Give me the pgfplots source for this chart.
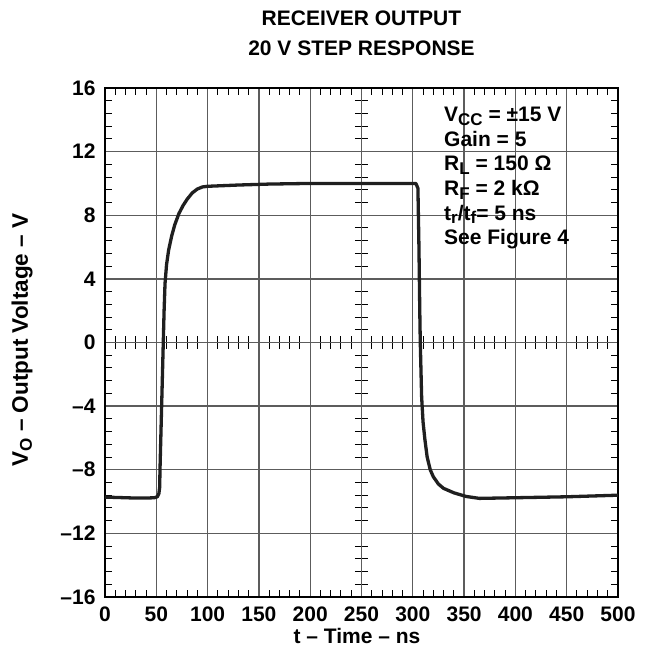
\documentclass[border=0pt]{standalone}
\usepackage{fontspec}
\setmainfont{Liberation Sans}
\usepackage{pgfplots}
\pgfplotsset{compat=1.18}

\definecolor{gridc}{gray}{0.36}
\definecolor{curvec}{gray}{0.12}
% lowered subscript like the datasheet
\newcommand\sub[1]{\raisebox{-0.35ex}{\fontsize{17}{17}\selectfont #1}}

\begin{document}
\begin{tikzpicture}[font=\fontsize{21}{25}\selectfont\bfseries]
\useasboundingbox (-105pt,-65pt) rectangle (542pt,597pt);

% centre lines with crossing minor ticks
\begin{axis}[at={(0,0)}, anchor=south west, scale only axis,
  width=513pt, height=509pt,
  xmin=-250, xmax=250, ymin=-16, ymax=16,
  axis lines=middle, axis line style={-, gridc, line width=1.3pt},
  xtick={-250,-200,...,250}, ytick={-16,-12,...,16},
  minor x tick num=4, minor y tick num=4,
  xticklabels={}, yticklabels={},
  tick align=center, major tick length=0pt, minor tick length=13pt,
  minor tick style={line width=1pt, black}]
\end{axis}

\begin{axis}[at={(0,0)}, anchor=south west, scale only axis,
  width=513pt, height=509pt,
  xmin=0, xmax=500, ymin=-16, ymax=16,
  xtick={0,50,...,500}, ytick={-16,-12,...,16},
  xticklabels={0,50,100,150,200,250,300,350,400,450,500},
  yticklabels={–16,–12,–8,–4,0,4,8,12,16},
  minor x tick num=4, minor y tick num=4,
  tick align=inside, major tick length=0pt, minor tick length=7pt,
  minor tick style={line width=1pt, black},
  grid=major, major grid style={gridc, line width=1.3pt},
  axis line style={line width=2.4pt, black},
  ticklabel style={font=\fontsize{21}{21}\selectfont\bfseries},
  xticklabel style={yshift=-6pt}, yticklabel style={xshift=-6pt}]
\addplot[curvec, line width=3.3pt, line join=round] coordinates {
  (0,-9.72) (10,-9.74) (20,-9.76) (30,-9.78) (40,-9.78) (48,-9.76)
  (51,-9.7) (52.5,-9.5) (53.3,-9.1) (53.6,-8) (54.4,-6) (55.2,-4)
  (56,-2) (56.8,0) (57.6,2) (58.5,3.7) (60,4.9) (62,5.8) (65,6.7)
  (68,7.4) (72,8.1) (76,8.6) (80,9.0) (85,9.4) (90,9.65) (95,9.78)
  (100,9.82) (130,9.9) (160,9.96) (200,10.0) (250,10.0) (303,10.0)
  (305,9.7) (306,6) (306.8,2) (307.3,0) (308.6,-3.4) (310,-5)
  (311.8,-6.1) (314,-7.2) (317,-8) (320,-8.44) (325,-8.9) (330,-9.17)
  (340,-9.45) (352,-9.68) (365,-9.8) (400,-9.76) (450,-9.7) (500,-9.6)
};
\end{axis}

\node[align=center, font=\fontsize{21}{30}\selectfont\bfseries] at (256.5pt,564pt)
  {RECEIVER OUTPUT\\20 V STEP RESPONSE};
\node[rotate=90, font=\fontsize{22.5}{25}\selectfont\bfseries] at (-83pt,257pt)
  {V\sub{O} – Output Voltage – V};
\node at (252pt,-39pt) {t – Time – ns};
\node[anchor=north west, align=left, inner sep=0pt,
  font=\fontsize{21}{24.6}\selectfont\bfseries] at (339pt,490pt)
  {V\sub{CC} = ±15 V\\Gain = 5\\R\sub{L} = 150 Ω\\R\sub{F} = 2 kΩ\\t\sub{r}/t\sub{f}= 5 ns\\See Figure 4};
\end{tikzpicture}
\end{document}
